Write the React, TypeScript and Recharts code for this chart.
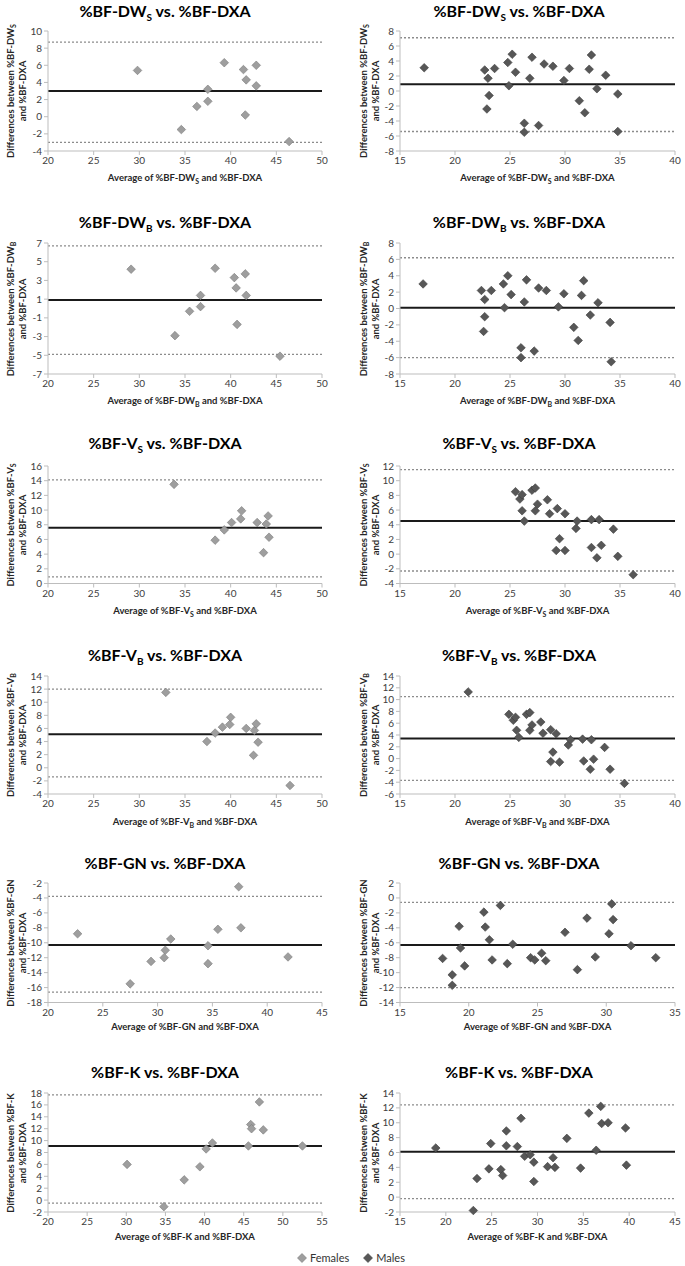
import React from 'react';
import { ScatterChart, Scatter, XAxis, YAxis, ReferenceLine } from 'recharts';

type Pt = [number, number];

// [average, difference]
const dwsFemales: Pt[] = [
  [29.8, 5.4], [34.6, -1.5], [36.3, 1.2], [37.5, 3.2], [37.5, 1.8], [39.3, 6.3],
  [41.4, 5.5], [41.7, 4.3], [41.6, 0.2], [42.8, 6.0], [42.8, 3.6], [46.4, -2.9],
];
const dwsMales: Pt[] = [
  [17.2, 3.1], [22.7, 2.8], [23.0, 1.7], [23.6, 3.0], [22.9, -2.4], [23.1, -0.6],
  [24.8, 3.8], [24.9, 0.7], [25.2, 4.9], [25.5, 2.5], [26.3, -4.3], [26.3, -5.5],
  [26.8, 1.7], [27.0, 4.5], [27.6, -4.6], [28.1, 3.6], [28.9, 3.3], [29.9, 1.4],
  [30.4, 3.0], [31.3, -1.3], [31.8, -2.9], [32.2, 2.9], [32.4, 4.8], [32.9, 0.3],
  [33.7, 2.1], [34.8, -0.4], [34.8, -5.4],
];
const dwbFemales: Pt[] = [
  [29.1, 4.2], [33.9, -2.9], [35.5, -0.3], [36.7, 1.4], [36.7, 0.2], [38.3, 4.3],
  [40.4, 3.3], [40.6, 2.2], [40.7, -1.7], [41.6, 3.7], [41.7, 1.4], [45.4, -5.1],
];
const dwbMales: Pt[] = [
  [17.1, 3.0], [22.4, 2.2], [22.7, 1.1], [22.7, -1.0], [22.6, -2.8], [23.3, 2.2],
  [24.4, 3.0], [24.5, 0.1], [24.8, 4.0], [25.1, 1.7], [26.0, -4.8], [26.0, -6.0],
  [26.3, 0.8], [26.5, 3.5], [27.2, -5.2], [27.6, 2.5], [28.3, 2.2], [29.4, 0.2],
  [29.9, 1.8], [30.8, -2.3], [31.2, -3.9], [31.5, 1.6], [31.7, 3.4], [32.3, -0.8],
  [33.0, 0.7], [34.1, -1.7], [34.2, -6.5],
];
const vsFemales: Pt[] = [
  [33.8, 13.5], [38.3, 5.9], [39.3, 7.3], [40.1, 8.3], [41.1, 8.8], [41.2, 9.9],
  [42.9, 8.3], [43.6, 4.2], [43.9, 8.1], [44.1, 9.2], [44.2, 6.3],
];
const vsMales: Pt[] = [
  [25.5, 8.5], [25.9, 7.5], [26.1, 8.1], [26.1, 5.9], [26.3, 4.5], [27.0, 8.7],
  [27.3, 9.0], [27.3, 5.9], [27.5, 6.8], [28.4, 7.4], [28.6, 5.5], [29.3, 6.2],
  [29.5, 2.1], [29.2, 0.5], [30.0, 5.5], [30.0, 0.5], [31.0, 3.5], [31.1, 4.5],
  [32.4, 4.7], [32.4, 0.9], [32.9, -0.5], [33.1, 4.7], [33.3, 1.2], [34.4, 3.4],
  [34.8, -0.3], [36.2, -2.8],
];
const vbFemales: Pt[] = [
  [32.9, 11.5], [37.4, 4.0], [38.3, 5.3], [39.1, 6.2], [39.9, 6.6], [40.0, 7.7],
  [41.7, 6.0], [42.5, 1.9], [42.6, 5.7], [42.8, 6.7], [43.0, 3.9], [46.5, -2.7],
];
const vbMales: Pt[] = [
  [21.2, 11.3], [24.9, 7.5], [25.3, 6.5], [25.5, 7.0], [25.6, 4.8], [25.8, 3.6],
  [26.5, 7.5], [26.8, 7.8], [26.8, 4.8], [27.0, 5.7], [27.8, 6.2], [28.0, 4.3],
  [28.7, 4.9], [29.2, 4.2], [28.7, -0.5], [28.9, 1.1], [29.5, -0.6], [30.3, 2.3],
  [30.5, 3.2], [31.6, 3.3], [31.7, -0.4], [32.3, -1.8], [32.4, 3.2], [32.6, -0.1],
  [33.6, 1.9], [34.1, -1.8], [35.4, -4.2],
];
const gnFemales: Pt[] = [
  [22.7, -8.8], [27.5, -15.5], [29.4, -12.5], [30.7, -11.0], [30.6, -12.0], [31.2, -9.5],
  [34.6, -10.4], [34.6, -12.8], [35.5, -8.2], [37.4, -2.5], [37.6, -8.0], [41.9, -11.9],
];
const gnMales: Pt[] = [
  [18.1, -8.1], [18.8, -10.3], [18.8, -11.7], [19.3, -3.8], [19.4, -6.7], [19.7, -9.1],
  [21.1, -1.9], [21.2, -3.9], [21.5, -5.6], [21.7, -8.3], [22.3, -1.0], [22.8, -8.8],
  [23.2, -6.2], [24.5, -8.0], [24.8, -8.3], [25.3, -7.4], [25.6, -8.4], [27.0, -4.6],
  [27.9, -9.6], [28.6, -2.7], [29.2, -7.9], [30.2, -4.8], [30.4, -0.8], [30.5, -2.9],
  [31.8, -6.4], [33.6, -8.0],
];
const kFemales: Pt[] = [
  [30.1, 6.0], [34.8, -1.1], [37.4, 3.4], [39.4, 5.6], [40.2, 8.6], [41.0, 9.6],
  [45.6, 9.1], [45.9, 12.7], [46.0, 12.0], [47.0, 16.5], [47.5, 11.8], [52.5, 9.1],
];
const kMales: Pt[] = [
  [18.9, 6.6], [23.0, -1.8], [23.4, 2.5], [24.7, 3.8], [24.9, 7.2], [26.0, 3.7],
  [26.2, 2.9], [26.6, 8.9], [26.6, 6.9], [27.8, 6.8], [28.2, 10.6], [28.6, 5.5],
  [29.2, 5.7], [29.6, 4.7], [29.6, 2.1], [31.1, 4.1], [31.7, 5.3], [31.9, 4.0],
  [33.2, 7.9], [34.7, 3.9], [35.6, 11.3], [36.4, 6.3], [36.9, 12.2], [37.0, 9.9],
  [37.7, 10.0], [39.6, 9.3], [39.7, 4.3],
];

// mean bias and limits of agreement [lower, mean, upper]
const dwsFemLimits = [-3.0, 3.0, 8.7];
const dwsMaleLimits = [-5.4, 0.9, 7.1];
const dwbFemLimits = [-4.9, 0.9, 6.7];
const dwbMaleLimits = [-6.0, 0.1, 6.2];
const vsFemLimits = [0.9, 7.6, 14.1];
const vsMaleLimits = [-2.3, 4.5, 11.5];
const vbFemLimits = [-1.4, 5.1, 12.0];
const vbMaleLimits = [-3.7, 3.4, 10.5];
const gnFemLimits = [-16.6, -10.3, -3.8];
const gnMaleLimits = [-12.0, -6.3, -0.6];
const kFemLimits = [-0.5, 9.1, 17.7];
const kMaleLimits = [-0.2, 6.1, 12.4];

// tick labels
const x2050 = [20, 25, 30, 35, 40, 45, 50];
const x2045 = [20, 25, 30, 35, 40, 45];
const x2055 = [20, 25, 30, 35, 40, 45, 50, 55];
const x1540 = [15, 20, 25, 30, 35, 40];
const x1535 = [15, 20, 25, 30, 35];
const x1545 = [15, 20, 25, 30, 35, 40, 45];
const yDwsFem = [-4, -2, 0, 2, 4, 6, 8, 10];
const yDwsMale = [-8, -6, -4, -2, 0, 2, 4, 6, 8];
const yDwbFem = [-7, -5, -3, -1, 1, 3, 5, 7];
const yDwbMale = [-8, -6, -4, -2, 0, 2, 4, 6, 8];
const yVsFem = [0, 2, 4, 6, 8, 10, 12, 14, 16];
const yVsMale = [-4, -2, 0, 2, 4, 6, 8, 10, 12];
const yVbFem = [-4, -2, 0, 2, 4, 6, 8, 10, 12, 14];
const yVbMale = [-6, -4, -2, 0, 2, 4, 6, 8, 10, 12, 14];
const yGnFem = [-18, -16, -14, -12, -10, -8, -6, -4, -2];
const yGnMale = [-14, -12, -10, -8, -6, -4, -2, 0, 2];
const yKFem = [-2, 0, 2, 4, 6, 8, 10, 12, 14, 16, 18];
const yKMale = [-2, 0, 2, 4, 6, 8, 10, 12, 14];

const methods = [
  { name: '%BF-DW', sub: 'S' },
  { name: '%BF-DW', sub: 'B' },
  { name: '%BF-V', sub: 'S' },
  { name: '%BF-V', sub: 'B' },
  { name: '%BF-GN', sub: '' },
  { name: '%BF-K', sub: '' },
];

type PanelDef = {
  row: number;
  col: number;
  points: Pt[];
  limits: number[];
  xTicks: number[];
  yTicks: number[];
};

const panels: PanelDef[] = [
  { row: 0, col: 0, points: dwsFemales, limits: dwsFemLimits, xTicks: x2050, yTicks: yDwsFem },
  { row: 0, col: 1, points: dwsMales, limits: dwsMaleLimits, xTicks: x1540, yTicks: yDwsMale },
  { row: 1, col: 0, points: dwbFemales, limits: dwbFemLimits, xTicks: x2050, yTicks: yDwbFem },
  { row: 1, col: 1, points: dwbMales, limits: dwbMaleLimits, xTicks: x1540, yTicks: yDwbMale },
  { row: 2, col: 0, points: vsFemales, limits: vsFemLimits, xTicks: x2050, yTicks: yVsFem },
  { row: 2, col: 1, points: vsMales, limits: vsMaleLimits, xTicks: x1540, yTicks: yVsMale },
  { row: 3, col: 0, points: vbFemales, limits: vbFemLimits, xTicks: x2050, yTicks: yVbFem },
  { row: 3, col: 1, points: vbMales, limits: vbMaleLimits, xTicks: x1540, yTicks: yVbMale },
  { row: 4, col: 0, points: gnFemales, limits: gnFemLimits, xTicks: x2045, yTicks: yGnFem },
  { row: 4, col: 1, points: gnMales, limits: gnMaleLimits, xTicks: x1535, yTicks: yGnMale },
  { row: 5, col: 0, points: kFemales, limits: kFemLimits, xTicks: x2055, yTicks: yKFem },
  { row: 5, col: 1, points: kMales, limits: kMaleLimits, xTicks: x1545, yTicks: yKMale },
];

// page layout (pixels)
const ROW_TOP = [31, 243, 466, 676, 883, 1093];
const ROW_H = [120, 131, 117.5, 118, 119.5, 119];
const TITLE_Y = [11, 222, 443, 655, 863, 1072];
const XLABEL_Y = [178, 401, 611, 822, 1027, 1237];
const COL_LEFT = [48, 400];
const COL_W = [274, 275];
const TITLE_X = [165, 519];
const YLABEL_X = [16, 368.5];

const FEMALE = '#9e9e9e';
const FEMALE_EDGE = '#7a7a7a';
const MALE = '#575757';
const MALE_EDGE = '#3d3d3d';
const FONT = 'Lato, "Open Sans", sans-serif';

const makeDiamond = (fill: string, edge: string) => (props: any) => {
  const { cx, cy } = props;
  const r = 4.3;
  return (
    <polygon
      points={`${cx},${cy - r} ${cx + r},${cy} ${cx},${cy + r} ${cx - r},${cy}`}
      fill={fill}
      stroke={edge}
      strokeWidth={0.6}
    />
  );
};

const Name = ({ row, subSize }: { row: number; subSize: number }) => (
  <>
    {methods[row].name}
    {methods[row].sub && (
      <sub style={{ fontSize: subSize, lineHeight: 0 }}>{methods[row].sub}</sub>
    )}
  </>
);

const Panel = ({ p }: { p: PanelDef }) => {
  const padL = 40;
  const padR = 10;
  const padT = 8;
  const padB = 20;
  const left = COL_LEFT[p.col] - padL;
  const top = ROW_TOP[p.row] - padT;
  const width = COL_W[p.col] + padL + padR;
  const height = ROW_H[p.row] + padT + padB;
  const data = p.points.map(([x, y]) => ({ x, y }));
  const xDomain = [p.xTicks[0], p.xTicks[p.xTicks.length - 1]];
  const yDomain = [p.yTicks[0], p.yTicks[p.yTicks.length - 1]];
  const female = p.col === 0;
  const tick = { fontSize: 10, fill: '#404040', fontFamily: FONT };
  const midY = ROW_TOP[p.row] + ROW_H[p.row] / 2;
  const midX = COL_LEFT[p.col] + COL_W[p.col] / 2;
  return (
    <>
      <div
        style={{
          position: 'absolute',
          left: TITLE_X[p.col],
          top: TITLE_Y[p.row] - 9,
          transform: 'translateX(-50%)',
          whiteSpace: 'nowrap',
          fontFamily: FONT,
          fontWeight: 700,
          fontSize: 16,
          lineHeight: '18px',
          color: '#000',
        }}
      >
        <Name row={p.row} subSize={10} /> vs. %BF-DXA
      </div>
      <div
        style={{
          position: 'absolute',
          left: YLABEL_X[p.col],
          top: midY,
          width: 170,
          transform: 'translate(-50%, -50%) rotate(-90deg)',
          textAlign: 'center',
          whiteSpace: 'nowrap',
          fontFamily: FONT,
          fontWeight: 700,
          fontSize: 9.5,
          lineHeight: '11.5px',
          color: '#262626',
        }}
      >
        <div>
          Differences between <Name row={p.row} subSize={7} />
        </div>
        <div>and %BF-DXA</div>
      </div>
      <div
        style={{
          position: 'absolute',
          left: midX,
          top: XLABEL_Y[p.row] - 6,
          transform: 'translateX(-50%)',
          whiteSpace: 'nowrap',
          fontFamily: FONT,
          fontWeight: 700,
          fontSize: 9.5,
          lineHeight: '12px',
          color: '#262626',
        }}
      >
        Average of <Name row={p.row} subSize={7} /> and %BF-DXA
      </div>
      <div style={{ position: 'absolute', left, top }}>
        <ScatterChart
          width={width}
          height={height}
          margin={{ top: padT, right: padR, bottom: 0, left: 0 }}
        >
          <XAxis
            type="number"
            dataKey="x"
            domain={xDomain}
            ticks={p.xTicks}
            interval={0}
            height={padB}
            tick={tick}
            tickSize={4}
            stroke="#bdbdbd"
          />
          <YAxis
            type="number"
            dataKey="y"
            domain={yDomain}
            ticks={p.yTicks}
            interval={0}
            width={padL}
            tick={tick}
            tickSize={4}
            stroke="#bdbdbd"
          />
          <ReferenceLine y={p.limits[2]} stroke="#8c8c8c" strokeWidth={1.3} strokeDasharray="2 2" />
          <ReferenceLine y={p.limits[0]} stroke="#8c8c8c" strokeWidth={1.3} strokeDasharray="2 2" />
          <ReferenceLine y={p.limits[1]} stroke="#1a1a1a" strokeWidth={2} />
          <Scatter
            data={data}
            isAnimationActive={false}
            shape={female ? makeDiamond(FEMALE, FEMALE_EDGE) : makeDiamond(MALE, MALE_EDGE)}
          />
        </ScatterChart>
      </div>
    </>
  );
};

const LegendItem = ({ label, fill, edge }: { label: string; fill: string; edge: string }) => (
  <span style={{ display: 'inline-flex', alignItems: 'center', marginRight: 14 }}>
    <svg width={10} height={10} style={{ marginRight: 3 }}>
      <polygon points="5,0.5 9.5,5 5,9.5 0.5,5" fill={fill} stroke={edge} strokeWidth={0.6} />
    </svg>
    {label}
  </span>
);

export default function App() {
  return (
    <div
      style={{
        position: 'absolute',
        left: 0,
        top: 0,
        width: 685,
        height: 1266,
        background: '#fff',
        overflow: 'hidden',
      }}
    >
      {panels.map((p, i) => (
        <Panel key={i} p={p} />
      ))}
      <div
        style={{
          position: 'absolute',
          left: 297,
          top: 1251,
          fontFamily: FONT,
          fontSize: 11,
          color: '#333',
          whiteSpace: 'nowrap',
          display: 'flex',
        }}
      >
        <LegendItem label="Females" fill={FEMALE} edge={FEMALE_EDGE} />
        <LegendItem label="Males" fill={MALE} edge={MALE_EDGE} />
      </div>
    </div>
  );
}
